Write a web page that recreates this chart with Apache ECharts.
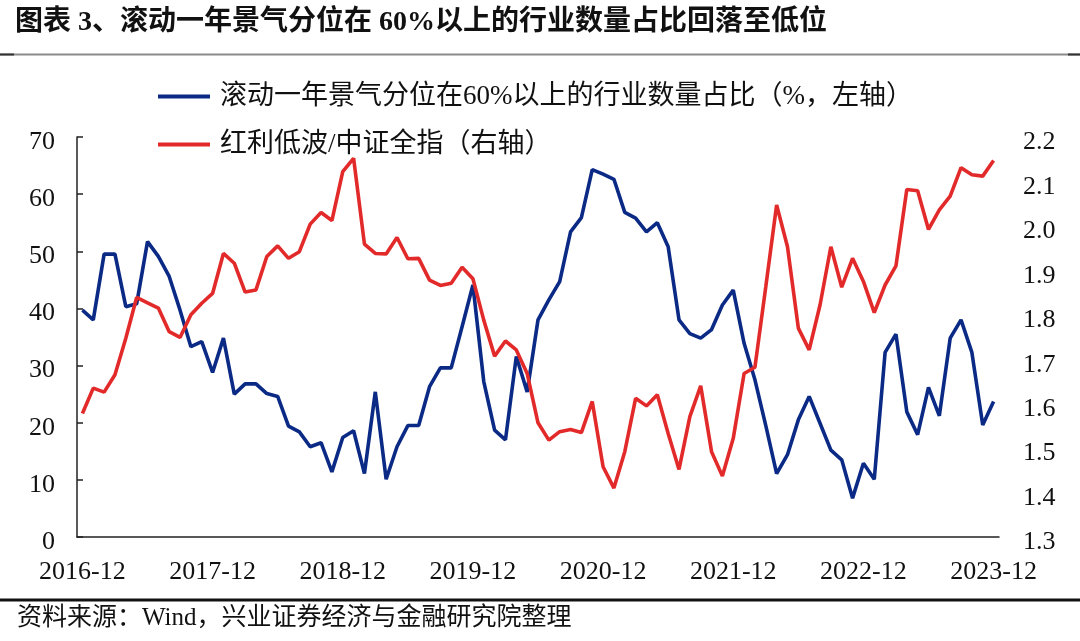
<!DOCTYPE html>
<html><head><meta charset="utf-8">
<script src="https://cdn.jsdelivr.net/npm/echarts@6/dist/echarts.min.js"></script>
<style>html,body{margin:0;padding:0;background:#fff}#c{width:1080px;height:641px}</style>
</head><body><div id="c"></div>
<script>
// categories: monthly, 2016-12 .. 2023-12
const months = [];
for (let y = 2016; y <= 2023; y++) {
  for (let m = 1; m <= 12; m++) {
    if (y === 2016 && m < 12) continue;
    months.push(y + '-' + String(m).padStart(2, '0'));
  }
}
const blueName = '滚动一年景气分位在60%以上的行业数量占比（%，左轴）';
const redName = '红利低波/中证全指（右轴）';
const blueValues = [
  39.7, 38.0, 49.5, 49.5, 40.3, 40.8, 51.7, 49.1, 45.6, 39.7, 33.3, 34.2,
  28.8, 34.8, 25.0, 26.8, 26.8, 25.1, 24.6, 19.4, 18.4, 15.8, 16.5, 11.4,
  17.4, 18.6, 11.1, 25.4, 10.1, 15.8, 19.5, 19.5, 26.3, 29.6, 29.6, 36.8,
  44.1, 27.2, 18.7, 17.0, 31.6, 25.4, 38.0, 41.5, 44.7, 53.4, 55.9, 64.3,
  63.5, 62.6, 56.8, 55.8, 53.4, 55.0, 50.8, 38.0, 35.6, 34.8, 36.3, 40.6,
  43.2, 33.9, 27.5, 19.5, 11.1, 14.4, 20.5, 24.6, 19.9, 15.2, 13.5, 6.8,
  12.9, 10.1, 32.3, 35.5, 21.9, 17.9, 26.2, 21.2, 34.8, 38.0, 32.3, 19.6,
  23.7
];
const redValues = [
  1.578, 1.635, 1.626, 1.665, 1.747, 1.839, 1.827, 1.815, 1.762, 1.749, 1.800, 1.826,
  1.848, 1.938, 1.916, 1.851, 1.856, 1.931, 1.955, 1.927, 1.942, 2.004, 2.030, 2.012,
  2.122, 2.152, 1.959, 1.938, 1.937, 1.974, 1.926, 1.927, 1.878, 1.866, 1.871, 1.907,
  1.881, 1.788, 1.707, 1.741, 1.721, 1.668, 1.557, 1.518, 1.537, 1.542, 1.535, 1.605,
  1.458, 1.410, 1.492, 1.612, 1.595, 1.620, 1.533, 1.452, 1.571, 1.640, 1.492, 1.437,
  1.522, 1.668, 1.682, 1.863, 2.047, 1.953, 1.770, 1.721, 1.822, 1.953, 1.862, 1.927,
  1.875, 1.805, 1.867, 1.910, 2.082, 2.079, 1.992, 2.036, 2.067, 2.131, 2.115, 2.112,
  2.147
];
const titleText = '图表 3、滚动一年景气分位在 60%以上的行业数量占比回落至低位';
const sourceText = '资料来源：Wind，兴业证券经济与金融研究院整理';

const FONT = "'Liberation Serif', 'Noto Sans CJK SC', serif";
const chart = echarts.init(document.getElementById('c'), null, { renderer: 'canvas' });
chart.setOption({
  backgroundColor: '#fff',
  animation: false,
  title: {
    text: titleText, left: 15, top: 9, padding: 0,
    textStyle: { fontFamily: FONT, fontSize: 28, fontWeight: 'bold', color: '#111' }
  },
  graphic: [
    { type: 'line', shape: { x1: 0, y1: 54.5, x2: 1080, y2: 54.5 }, style: { stroke: '#8a8a8a', lineWidth: 2 } },
    { type: 'line', shape: { x1: 0, y1: 54.5, x2: 14, y2: 54.5 }, style: { stroke: '#333', lineWidth: 2 } },
    { type: 'line', shape: { x1: 1068, y1: 54.5, x2: 1080, y2: 54.5 }, style: { stroke: '#333', lineWidth: 2 } },
    { type: 'line', shape: { x1: 0, y1: 600, x2: 1080, y2: 600 }, style: { stroke: '#111', lineWidth: 3 } },
    { type: 'text', left: 17, top: 606, style: { text: sourceText, font: "25px 'Liberation Serif', 'Noto Sans CJK SC', serif", fill: '#111' } }
  ],
  legend: {
    orient: 'vertical', left: 158, top: 83, itemGap: 21, padding: 0,
    itemWidth: 52, itemHeight: 4, icon: 'rect',
    textStyle: { fontFamily: FONT, fontSize: 27, color: '#111', lineHeight: 27, padding: [0, 0, 0, 5] },
    data: [blueName, redName]
  },
  grid: { left: 77, right: 81, top: 137, bottom: 104, containLabel: false },
  xAxis: {
    type: 'category', data: months, boundaryGap: true,
    axisLine: { lineStyle: { color: '#222', width: 1.5 } },
    axisTick: { inside: true, length: 8, interval: 11, alignWithLabel: false, lineStyle: { color: '#222', width: 1.5 } },
    axisLabel: { interval: 11, margin: 22, fontFamily: FONT, fontSize: 26, color: '#111' },
    splitLine: { show: false }
  },
  yAxis: [
    {
      type: 'value', min: 0, max: 70, interval: 10, position: 'left',
      axisLine: { show: true, lineStyle: { color: '#222', width: 1.5 } },
      axisTick: { show: true, inside: true, length: 6, lineStyle: { color: '#222', width: 1.5 } },
      axisLabel: { margin: 22, fontFamily: FONT, fontSize: 26, color: '#111', verticalAlign: 'top', lineHeight: 10 },
      splitLine: { show: false }
    },
    {
      type: 'value', min: 1.3, max: 2.2, interval: 0.1, position: 'right',
      axisLine: { show: false }, axisTick: { show: false },
      axisLabel: { margin: 24, fontFamily: FONT, fontSize: 26, color: '#111', verticalAlign: 'top', lineHeight: 11,
        formatter: v => v.toFixed(1) },
      splitLine: { show: false }
    }
  ],
  series: [
    { name: blueName, type: 'line', yAxisIndex: 0, data: blueValues, symbol: 'none',
      lineStyle: { color: '#0B2A85', width: 3.6 }, itemStyle: { color: '#0B2A85' } },
    { name: redName, type: 'line', yAxisIndex: 1, data: redValues, symbol: 'none',
      lineStyle: { color: '#E32A2A', width: 3.6 }, itemStyle: { color: '#E32A2A' } }
  ]
});
</script></body></html>
